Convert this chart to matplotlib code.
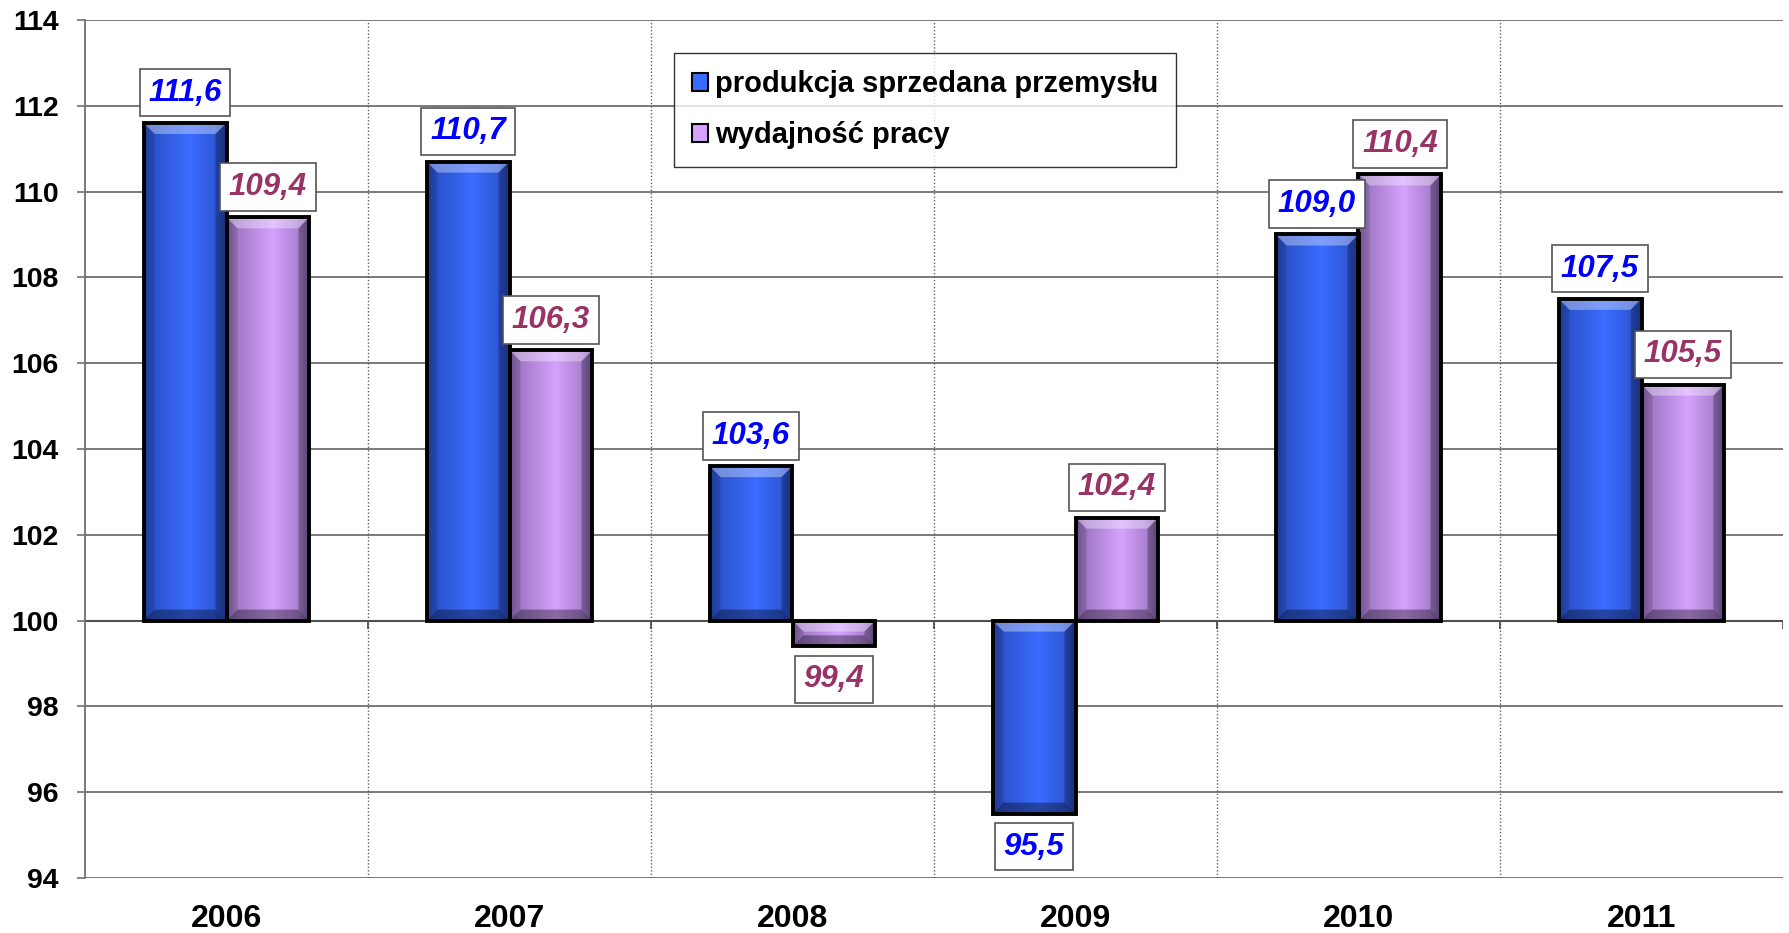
import numpy as np
import matplotlib
matplotlib.use('Agg')
import matplotlib.pyplot as plt
from matplotlib.patches import Patch, Polygon
from matplotlib.colors import to_rgb

plt.rcParams['font.family'] = ['Liberation Sans', 'DejaVu Sans']

lata = ['2006', '2007', '2008', '2009', '2010', '2011']
produkcja = [111.6, 110.7, 103.6, 95.5, 109.0, 107.5]
wydajnosc = [109.4, 106.3, 99.4, 102.4, 110.4, 105.5]
nazwy = ['produkcja sprzedana przemysłu', 'wydajność pracy']

BAZA = 100
kolory = ['#3a6cff', '#d6a2ff']
ciemne = ['#1a3590', '#5e4680']
kolory_etykiet = ['#0000FF', '#993366']

W, H = 1789, 933
fig = plt.figure(figsize=(W / 100, H / 100), dpi=100)
ax = fig.add_axes([85 / W, 1 - 878 / H, 1698 / W, 858 / H])

x = np.arange(len(lata))
szer = 0.293
ax.set_xlim(-0.5, len(lata) - 0.5)
ax.set_ylim(94, 114)

# siatka
ax.set_yticks(np.arange(94, 115, 2))
for y in np.arange(94, 115, 2):
    ax.axhline(y, color='#707070', lw=1.3, zorder=1)
for b in np.arange(0.5, len(lata) - 0.5, 1):
    ax.axvline(b, color='#606060', lw=1.0, ls=(0, (1, 1.5)), zorder=1)
ax.axhline(BAZA, color='#505050', lw=1.5, zorder=1)
ax.vlines(np.arange(0.5, len(lata), 1), BAZA - 0.2, BAZA, color='#505050', lw=1.3, zorder=1)

# rozmiar fazy w jednostkach danych (ok. 11 px)
px_x = 1 / 283.0
px_y = 20 / 858.0
bx, by = 11 * px_x, 11 * px_y

def gradient(c, d):
    c = np.array(to_rgb(c)); d = np.array(to_rgb(d))
    t = np.linspace(0, 1, 200)
    prof = np.interp(t, [0, 0.12, 0.55, 0.85, 1], [0.75, 0.45, 0.0, 0.35, 0.8])
    img = c[None, :] * (1 - prof[:, None]) + d[None, :] * prof[:, None]
    return img[None, :, :]

serie = [produkcja, wydajnosc]
for i, vals in enumerate(serie):
    pos = x + (i - 0.5) * szer
    bars = ax.bar(pos, np.array(vals) - BAZA, szer, bottom=BAZA, facecolor=kolory[i],
                  edgecolor='none', zorder=2)
    img = gradient(kolory[i], ciemne[i])
    for b, v in zip(bars, vals):
        x0, x1 = b.get_x(), b.get_x() + b.get_width()
        y0, y1 = sorted([b.get_y(), b.get_y() + b.get_height()])
        im = ax.imshow(img, extent=(x0, x1, y0, y1), aspect='auto', zorder=3,
                       interpolation='bilinear')
        im.set_clip_path(b)
        gora = Polygon([(x0, y1), (x1, y1), (x1 - bx, y1 - by), (x0 + bx, y1 - by)],
                       facecolor='white', alpha=0.35, edgecolor='none', zorder=4)
        dol = Polygon([(x0, y0), (x1, y0), (x1 - bx, y0 + by), (x0 + bx, y0 + by)],
                      facecolor='black', alpha=0.35, edgecolor='none', zorder=4)
        lewa = Polygon([(x0, y0), (x0, y1), (x0 + bx, y1 - by), (x0 + bx, y0 + by)],
                       facecolor='black', alpha=0.12, edgecolor='none', zorder=4)
        prawa = Polygon([(x1, y0), (x1, y1), (x1 - bx, y1 - by), (x1 - bx, y0 + by)],
                        facecolor='black', alpha=0.25, edgecolor='none', zorder=4)
        for p in (gora, dol, lewa, prawa):
            ax.add_patch(p)
        ax.add_patch(plt.Rectangle((x0, y0), x1 - x0, y1 - y0, facecolor='none',
                                   edgecolor='black', lw=2.8, zorder=5))
        cx = x0 + (x1 - x0) / 2
        if v >= BAZA:
            xy, off, va = (cx, y1), (0, 11), 'bottom'
        else:
            xy, off, va = (cx, y0), (0, -13), 'top'
        ax.annotate(f'{v:.1f}'.replace('.', ','), xy=xy, xytext=off,
                    textcoords='offset points', ha='center', va=va,
                    fontsize=22.5, fontweight='bold', fontstyle='italic',
                    color=kolory_etykiet[i], zorder=6,
                    bbox=dict(boxstyle='square,pad=0.28', fc='white', ec='#555555', lw=1.2))

ax.set_xticks(x)
ax.set_xticklabels(lata, fontsize=23, fontweight='bold')
ax.tick_params(axis='x', length=0, pad=19)
ax.set_yticklabels([str(v) for v in range(94, 115, 2)], fontsize=20.5, fontweight='bold')
ax.tick_params(axis='y', length=6, width=1.2, color='#707070', pad=13)

for s in ['top', 'right', 'bottom']:
    ax.spines[s].set_visible(False)
ax.spines['left'].set_color('#707070')
ax.spines['left'].set_linewidth(1.3)

uchwyty = [Patch(facecolor=kolory[i], edgecolor='black', lw=1.5) for i in range(2)]
leg = ax.legend(uchwyty, nazwy, loc='upper left', bbox_to_anchor=(0.347, 0.962),
                prop={'size': 21, 'weight': 'bold'}, frameon=True, fancybox=False,
                handlelength=0.55, handleheight=0.55, handletextpad=0.25,
                labelspacing=0.8, borderpad=0.6, borderaxespad=0)
leg.get_frame().set_edgecolor('black')
leg.get_frame().set_linewidth(1.0)
leg.set_zorder(7)

fig.savefig('out.png', dpi=100, facecolor='white')
